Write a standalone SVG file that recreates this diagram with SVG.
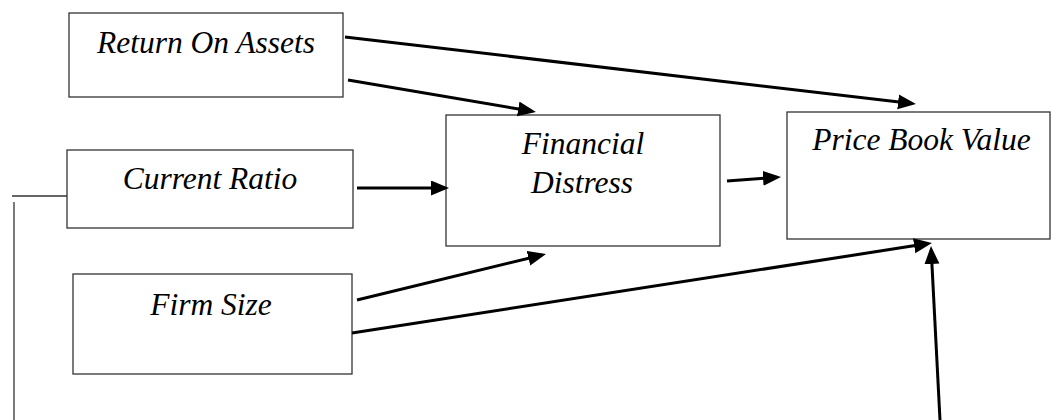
<svg xmlns="http://www.w3.org/2000/svg" width="1051" height="420" viewBox="0 0 1051 420">
<style>
.box{fill:#fff;stroke:#333;stroke-width:1.3}
.lbl{font-family:"Liberation Serif","Times New Roman",serif;font-style:italic;font-size:31.5px;fill:#000;text-anchor:middle}
.arr{stroke:#000;stroke-width:3;fill:none;marker-end:url(#ah)}
.thin{stroke:#333;stroke-width:1.3;fill:none}
</style>
<defs>
<marker id="ah" markerUnits="userSpaceOnUse" markerWidth="20" markerHeight="16" refX="14" refY="7.5" orient="auto">
<path d="M0,0 L18,7.5 L0,15 Z" fill="#000"/>
</marker>
</defs>
<rect width="1051" height="420" fill="#fff"/>
<g id="roa"><rect class="box" x="69" y="13" width="274" height="84"/><text class="lbl" x="206" y="53">Return On Assets</text></g>
<g id="cr"><rect class="box" x="67" y="150" width="286" height="78"/><text class="lbl" x="210" y="189">Current Ratio</text></g>
<g id="fs"><rect class="box" x="73" y="274" width="279" height="100"/><text class="lbl" x="211" y="315">Firm Size</text></g>
<g id="fd"><rect class="box" x="446" y="115" width="274" height="131"/><text class="lbl" x="583" y="154">Financial</text><text class="lbl" x="582" y="193">Distress</text></g>
<g id="pbv"><rect class="box" x="787" y="112" width="263" height="127"/><text class="lbl" x="921.5" y="150">Price Book Value</text></g>
<g id="connectors">
<line class="arr" x1="345" y1="37" x2="912" y2="103.5"/>
<line class="arr" x1="348" y1="80" x2="532" y2="111.3"/>
<line class="arr" x1="357" y1="188" x2="445" y2="188"/>
<line class="arr" x1="727" y1="181" x2="777" y2="177.3"/>
<line class="arr" x1="357" y1="300" x2="542.1" y2="255"/>
<line class="arr" x1="352" y1="333" x2="928" y2="243.6"/>
<line class="arr" x1="940" y1="420" x2="931.2" y2="250"/>
<line class="thin" x1="12" y1="196" x2="67" y2="196"/>
<line class="thin" x1="14" y1="202" x2="14" y2="420"/>
</g>
</svg>
